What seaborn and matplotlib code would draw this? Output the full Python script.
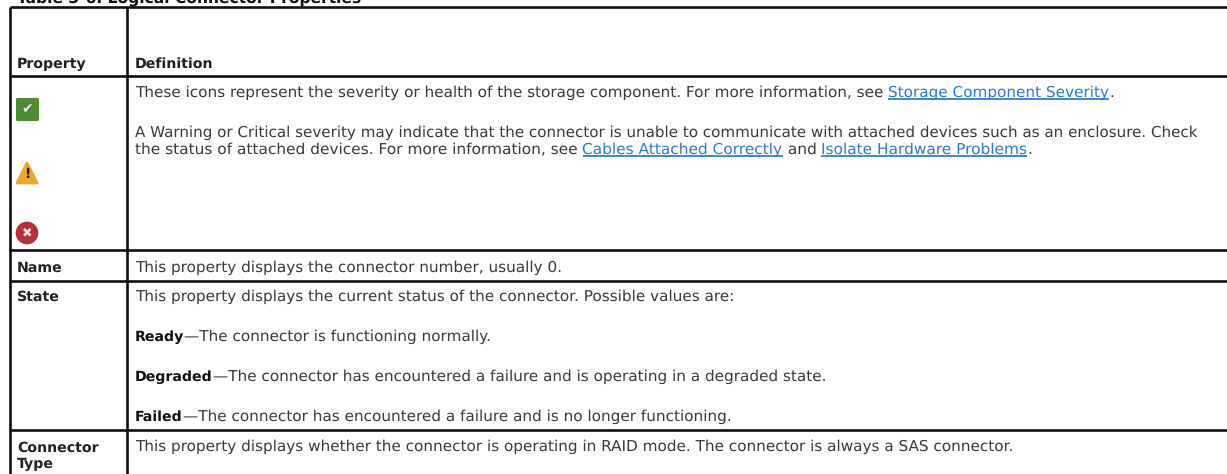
import matplotlib
matplotlib.use("Agg")
import matplotlib.pyplot as plt
import seaborn as sns
import pandas as pd

W, H = 1227, 474
LINK = "#2a7ad8"
UNDER = "#0b66d0"
TXT = "#3a3a3a"
BLK = "#111111"

title = "Table 3-6. Logical Connector Properties"
col_x = [10, 127]
row_y = [7, 76, 250, 281, 430]
headers = ["Property", "Definition"]
prop_names = [("Name", 272), ("State", 301), ("Connector", 452), ("Type", 468)]

# each line is a list of (text, kind) runs with its baseline and font size
lines = [
    (97, 11.03, [("These icons represent the severity or health of the storage component. For more information, see ", "n"),
                 ("Storage Component Severity", "l"), (".", "n")]),
    (137, 10.93, [("A Warning or Critical severity may indicate that the connector is unable to communicate with attached devices such as an enclosure. Check", "n")]),
    (154, 11.07, [("the status of attached devices. For more information, see ", "n"), ("Cables Attached Correctly", "l"),
                  (" and ", "n"), ("Isolate Hardware Problems", "l"), (".", "n")]),
    (272, 10.95, [("This property displays the connector number, usually 0.", "n")]),
    (301, 10.97, [("This property displays the current status of the connector. Possible values are:", "n")]),
    (341, 10.95, [("Ready", "b"), ("—The connector is functioning normally.", "n")]),
    (381, 10.95, [("Degraded", "b"), ("—The connector has encountered a failure and is operating in a degraded state.", "n")]),
    (421, 10.95, [("Failed", "b"), ("—The connector has encountered a failure and is no longer functioning.", "n")]),
    (451, 10.95, [("This property displays whether the connector is operating in RAID mode. The connector is always a SAS connector.", "n")]),
]

icons = pd.DataFrame({
    "x": [27, 27, 27],
    "y": [109, 173, 233],
    "kind": ["ok", "warn", "crit"],
})

sns.set_theme(style="white")
plt.rcParams["font.family"] = ["DejaVu Sans"]
plt.rcParams["text.hinting"] = "no_hinting"

fig = plt.figure(figsize=(W / 100, H / 100), dpi=100)
ax = fig.add_axes([0, 0, 1, 1])
ax.set_xlim(0, W)
ax.set_ylim(H, 0)
ax.axis("off")

# grid
ax.hlines(row_y, col_x[0], W, color=BLK, lw=1.9)
ax.vlines(col_x, row_y[0], H, color=BLK, lw=1.9)

# title is clipped by the top of the page
ax.text(17, 2.5, title, fontsize=11.2, fontweight="bold", color=BLK, va="baseline")

FS_B = 10.15
for x, name in zip([17, 135], headers):
    ax.text(x, 68, name, fontsize=FS_B, fontweight="bold", color="#222222", va="baseline")
for name, y in prop_names:
    ax.text(17, y, name, fontsize=FS_B, fontweight="bold", color="#222222", va="baseline")

# icons
sns.scatterplot(data=icons, x="x", y="y", hue="kind", style="kind",
                hue_order=["ok", "warn", "crit"],
                palette={"ok": "#4f8a36", "warn": "#eda92a", "crit": "#b5303a"},
                markers={"ok": "s", "warn": "^", "crit": "o"},
                s=200, linewidth=2.2, edgecolor="face", legend=False, ax=ax)
for c in ax.collections:
    if len(c.get_offsets()):
        c.set_joinstyle("round")
ax.text(27, 109, "✔", color="#e8f2e0", fontsize=10, ha="center", va="center")
ax.text(27, 174, "!", color="#222222", fontsize=10, fontweight="bold", ha="center", va="center")
ax.text(27, 233, "✖", color="#f6e4e4", fontsize=9, ha="center", va="center")
ax.set_xlim(0, W)
ax.set_ylim(H, 0)
ax.set_xlabel("")
ax.set_ylabel("")
ax.axis("off")

# text runs, laid out one after another
fig.canvas.draw()
rend = fig.canvas.get_renderer()
for y, fs, runs in lines:
    x = 135
    for s, kind in runs:
        col = LINK if kind == "l" else (BLK if kind == "b" else TXT)
        size = FS_B if kind == "b" else fs
        t = ax.text(x, y, s, fontsize=size, color=col, va="baseline",
                    fontweight="bold" if kind == "b" else "normal")
        adv = rend.get_text_width_height_descent(s, t.get_fontproperties(), False)[0]
        if kind == "l":
            ax.hlines(y + 2, x, x + adv, color=UNDER, lw=1.1)
        x += adv

fig.savefig("out.png", dpi=100)
